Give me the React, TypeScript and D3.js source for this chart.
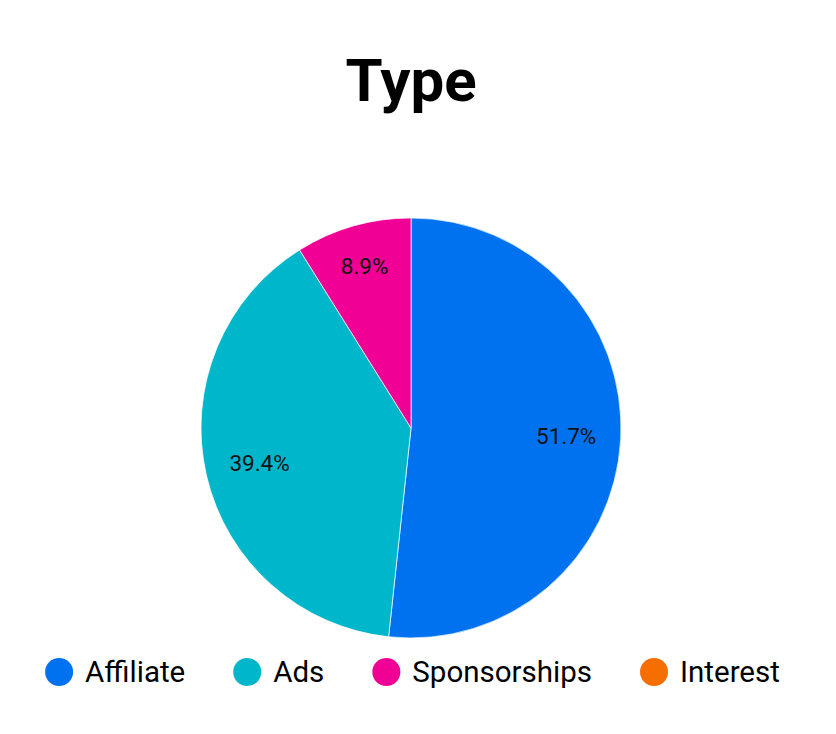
import React, { useEffect, useRef } from 'react';
import * as d3 from 'd3';

const width = 836;
const height = 734;

const categories = ['Affiliate', 'Ads', 'Sponsorships', 'Interest'];
const shares = [51.7, 39.4, 8.9, 0];
const colors = ['#0072f0', '#00b6cb', '#f10096', '#f66d00'];
const title = 'Type';

const cx = 411;
const cy = 428;
const radius = 210;

const TypePie: React.FC = () => {
  const ref = useRef<SVGSVGElement>(null);

  useEffect(() => {
    if (!ref.current) return;
    const svg = d3.select(ref.current);
    svg.selectAll('*').remove();

    const font = 'Roboto, sans-serif';

    svg
      .append('text')
      .attr('x', cx)
      .attr('y', 101)
      .attr('text-anchor', 'middle')
      .attr('font-family', font)
      .attr('font-weight', 700)
      .attr('font-size', 60)
      .attr('fill', '#000')
      .text(title);

    const data = categories.map((name, i) => ({ name, value: shares[i], color: colors[i] }));

    const pie = d3
      .pie<typeof data[number]>()
      .value(d => d.value)
      .sort(null);

    const arcs = pie(data);
    const arc = d3.arc<d3.PieArcDatum<typeof data[number]>>().innerRadius(0).outerRadius(radius);

    const g = svg.append('g').attr('transform', `translate(${cx},${cy})`);

    g.selectAll('path')
      .data(arcs.filter(a => a.value > 0))
      .enter()
      .append('path')
      .attr('d', arc)
      .attr('fill', d => d.data.color)
      .attr('stroke', '#ffffff')
      .attr('stroke-width', 0.7);

    // narrow slices get their label pushed a bit further out
    const labelR = (a: d3.PieArcDatum<typeof data[number]>) =>
      a.endAngle - a.startAngle < 0.15 * 2 * Math.PI ? radius * 0.8 : radius * 0.74;

    g.selectAll('text.lbl')
      .data(arcs.filter(a => a.value > 0))
      .enter()
      .append('text')
      .attr('class', 'lbl')
      .attr('transform', d => {
        const r = labelR(d);
        const c = d3.arc<d3.PieArcDatum<typeof data[number]>>().innerRadius(r).outerRadius(r).centroid(d);
        return `translate(${c[0]},${c[1]})`;
      })
      .attr('text-anchor', 'middle')
      .attr('dy', '0.35em')
      .attr('font-family', font)
      .attr('font-size', 22.5)
      .attr('fill', '#111')
      .text(d => `${d.data.value.toFixed(1)}%`);

    // legend, measured then centred
    const legend = svg.append('g');
    const dotR = 14;
    const gapText = 12;
    const gapItem = 48;
    let x = 0;
    data.forEach(d => {
      const item = legend.append('g').attr('transform', `translate(${x},0)`);
      item.append('circle').attr('cx', dotR).attr('cy', 0).attr('r', dotR).attr('fill', d.color);
      const t = item
        .append('text')
        .attr('x', dotR * 2 + gapText)
        .attr('dy', '0.35em')
        .attr('font-family', font)
        .attr('font-size', 29.5)
        .attr('fill', '#000')
        .text(d.name);
      const w = (t.node() as SVGTextElement).getComputedTextLength();
      x += dotR * 2 + gapText + w + gapItem;
    });
    const total = x - gapItem;
    legend.attr('transform', `translate(${412.5 - total / 2},672)`);
  }, []);

  return (
    <svg
      ref={ref}
      width={width}
      height={height}
      style={{ position: 'absolute', top: 0, left: 0, background: '#fff' }}
    />
  );
};

export default function App() {
  return <TypePie />;
}
